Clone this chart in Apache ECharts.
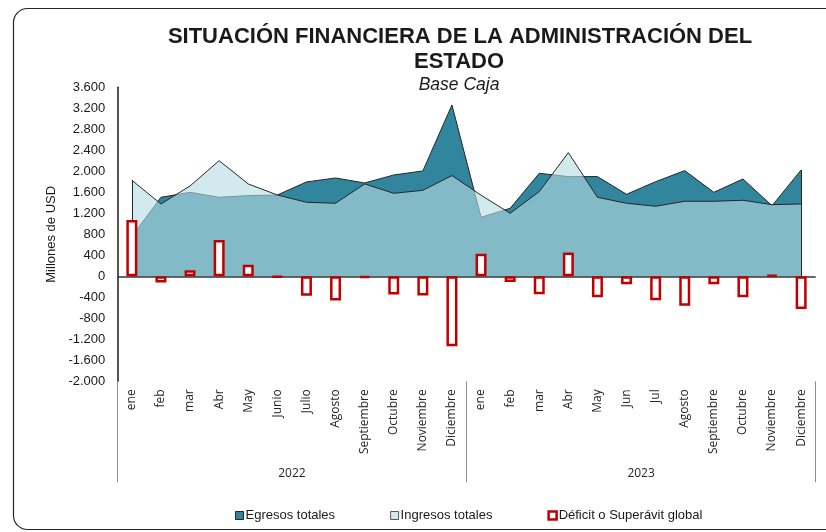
<!DOCTYPE html>
<html>
<head>
<meta charset="utf-8">
<script src="https://cdn.jsdelivr.net/npm/echarts@6/dist/echarts.min.js"></script>
<style>
html,body{margin:0;padding:0;background:#fff;}
#main{width:826px;height:532px;}
</style>
</head>
<body>
<div id="main"></div>
<script>
const months = ['ene','feb','mar','Abr','May','Junio','Julio','Agosto','Septiembre','Octubre','Noviembre','Diciembre',
                'ene','feb','mar','Abr','May','Jun','Jul','Agosto','Septiembre','Octubre','Noviembre','Diciembre'];
const years = ['2022','2023'];
const egresos = [760,1505,1600,1505,1537,1549,1797,1873,1778,1930,2007,3264,
                 1124,1295,1962,1899,1899,1562,1803,2013,1600,1854,1345,2026];
const ingresos = [1830,1378,1721,2203,1759,1549,1410,1391,1759,1581,1638,1918,
                  1545,1200,1613,2356,1505,1391,1334,1429,1429,1448,1365,1378];
const deficit = [1070,-120,115,690,220,-15,-370,-460,-30,-345,-365,-1330,
                 430,-110,-340,455,-400,-150,-455,-560,-150,-400,25,-625];
const yTicks = {min:-2000, max:3600, interval:400};

const chart = echarts.init(document.getElementById('main'), null, {renderer:'canvas'});
const last = months.length - 1;
const fmt = v => {
  const s = Math.abs(v).toString().replace(/\B(?=(\d{3})+(?!\d))/g, '.');
  return (v < 0 ? '-' : '') + s;
};
const dark = '#262626';
const teal = '#31859C';
const lightFill = 'rgba(182,219,227,0.62)';

chart.setOption({
  animation:false,
  graphic:[
    {type:'rect', shape:{x:13.5,y:8.5,width:840,height:521,r:14}, style:{fill:'none',stroke:'#262626',lineWidth:1.2}, z:0},
    {type:'text', x:460, y:37, style:{text:'SITUACIÓN FINANCIERA DE LA ADMINISTRACIÓN DEL', font:'bold 22px "Liberation Sans", Arial, sans-serif', fill:'#1a1a1a', textAlign:'center', textVerticalAlign:'middle'}},
    {type:'text', x:459, y:62, style:{text:'ESTADO', font:'bold 22px "Liberation Sans", Arial, sans-serif', fill:'#1a1a1a', textAlign:'center', textVerticalAlign:'middle'}},
    {type:'text', x:459, y:85, style:{text:'Base Caja', font:'italic 17.5px "Liberation Sans", Arial, sans-serif', fill:'#1a1a1a', textAlign:'center', textVerticalAlign:'middle'}}
  ],
  grid:{left:117.3, right:10.3, top:87.3, bottom:150.7, containLabel:false},
  legend:{
    top:504, left:230, itemWidth:8, itemHeight:8, itemGap:55,
    textStyle:{fontFamily:'"Liberation Sans", Arial, sans-serif', fontSize:13, color:'#1a1a1a', padding:[0,0,0,-3]},
    data:[
      {name:'Egresos totales', icon:'rect', itemStyle:{color:teal, borderColor:dark, borderWidth:1}},
      {name:'Ingresos totales', icon:'rect', itemStyle:{color:'#D2E9EE', borderColor:'#595959', borderWidth:1}},
      {name:'Déficit o Superávit global', icon:'rect', itemStyle:{color:'#ffffff', borderColor:'#C00000', borderWidth:2.5}}
    ]
  },
  xAxis:[
    {type:'category', data:months, position:'bottom', boundaryGap:true,
     axisLine:{show:false}, axisTick:{show:false},
     axisLabel:{rotate:90, margin:8, interval:0, fontSize:12, fontFamily:'"Open Sans", sans-serif', color:'#262626'}},
    {type:'category', data:years, position:'bottom', offset:101, boundaryGap:true,
     axisLine:{show:false},
     axisTick:{show:true, inside:true, length:101, lineStyle:{color:'#8c8c8c', width:1}},
     axisLabel:{inside:true, margin:3, fontSize:12, fontFamily:'"Open Sans", sans-serif', color:'#262626'}}
  ],
  yAxis:{
    type:'value', min:yTicks.min, max:yTicks.max, interval:yTicks.interval,
    name:'Millones de USD', nameLocation:'middle', nameGap:47, nameRotate:90,
    nameTextStyle:{fontFamily:'"Liberation Sans", Arial, sans-serif', fontSize:13, color:'#1a1a1a'},
    axisLine:{show:true, onZero:false, lineStyle:{color:'#1a1a1a', width:1.5}},
    axisTick:{show:false}, splitLine:{show:false},
    axisLabel:{formatter:fmt, margin:12, fontFamily:'"Liberation Sans", Arial, sans-serif', fontSize:13, color:'#1a1a1a'}
  },
  series:[
    {name:'Egresos totales', type:'line', data:egresos, z:2, showSymbol:false, symbol:'none',
     itemStyle:{color:teal},
     lineStyle:{color:dark, width:1},
     areaStyle:{color:teal, opacity:1},
     emphasis:{disabled:true}},
    {name:'Ingresos totales', type:'line', data:ingresos, z:3, showSymbol:false, symbol:'none',
     itemStyle:{color:'#D2E9EE'},
     lineStyle:{color:dark, width:1},
     areaStyle:{color:lightFill, opacity:1},
     emphasis:{disabled:true},
     markLine:{silent:true, z:4, symbol:['none','none'], label:{show:false}, emphasis:{disabled:true},
       lineStyle:{color:dark, width:1, type:'solid'},
       data:[
         [{coord:[0,0]},{coord:[0,Math.max(ingresos[0],egresos[0])]}],
         [{coord:[last,0]},{coord:[last,Math.max(ingresos[last],egresos[last])]}]
       ]}},
    {name:'Déficit o Superávit global', type:'bar', data:deficit, z:5, barWidth:11,
     itemStyle:{color:'#ffffff', borderColor:'#C00000', borderWidth:2.5},
     emphasis:{disabled:true},
     markLine:{silent:true, z:4, symbol:['none','none'], label:{show:false}, emphasis:{disabled:true},
       lineStyle:{color:'#333333', width:1.5, type:'solid'},
       data:[{yAxis:0}]}}
  ]
});
</script>
</body>
</html>
